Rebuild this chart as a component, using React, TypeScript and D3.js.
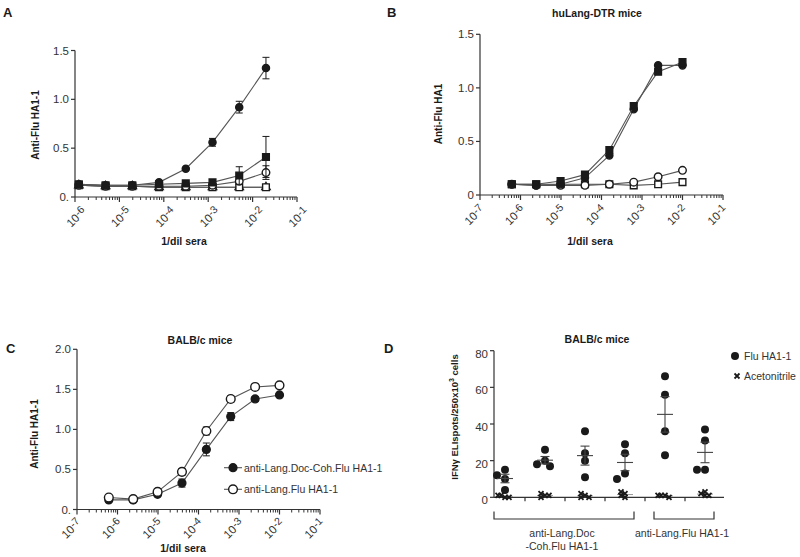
import { useRef, useEffect } from 'react';
import * as d3 from 'd3';

// 1/dil sera, left to right
const dilutionsA = [1 / 819200, 1 / 204800, 1 / 51200, 1 / 12800, 1 / 3200, 1 / 800, 1 / 200, 1 / 50];
const dilutionsBC = [1 / 1638400, 1 / 409600, 1 / 102400, 1 / 25600, 1 / 6400, 1 / 1600, 1 / 400, 1 / 100];

// Panel A
const aFilledCircle = [0.13, 0.12, 0.12, 0.15, 0.29, 0.56, 0.92, 1.32];
const aFilledCircleErr = [0.01, 0.01, 0.01, 0.01, 0.01, 0.04, 0.06, 0.11];
const aFilledSquare = [0.13, 0.12, 0.12, 0.13, 0.14, 0.15, 0.22, 0.41];
const aFilledSquareErr = [0.01, 0.01, 0.01, 0.01, 0.01, 0.02, 0.09, 0.21];
const aOpenCircle = [0.12, 0.11, 0.11, 0.11, 0.11, 0.12, 0.16, 0.25];
const aOpenCircleErr = [0, 0, 0, 0, 0, 0.01, 0.02, 0.07];
const aOpenTriangle = [0.12, 0.11, 0.11, 0.1, 0.1, 0.1, 0.1, 0.1];
const aOpenSquare = [0.12, 0.11, 0.11, 0.1, 0.1, 0.1, 0.1, 0.1];

// Panel B
const bFilledCircle = [0.1, 0.09, 0.1, 0.16, 0.37, 0.8, 1.21, 1.21];
const bFilledSquare = [0.1, 0.1, 0.13, 0.19, 0.42, 0.83, 1.15, 1.24];
const bOpenCircle = [0.1, 0.09, 0.09, 0.09, 0.1, 0.12, 0.17, 0.23];
const bOpenSquare = [0.1, 0.1, 0.1, 0.1, 0.1, 0.09, 0.1, 0.12];

// Panel C
const cDocCoh = [0.12, 0.12, 0.19, 0.33, 0.75, 1.16, 1.38, 1.43];
const cDocCohErr = [0.01, 0.01, 0.02, 0.05, 0.08, 0.05, 0.03, 0.01];
const cFlu = [0.15, 0.13, 0.22, 0.47, 0.98, 1.38, 1.53, 1.55];
const cFluErr = [0.01, 0.01, 0.02, 0.04, 0.05, 0.04, 0.02, 0.02];
const cLegend = ['anti-Lang.Doc-Coh.Flu HA1-1', 'anti-Lang.Flu HA1-1'];

// Panel D
const dGroups = ['g1', 'g2', 'g3', 'g4', 'g5', 'g6'];
const dFlu = [
    [15, 12, 10, 4],
    [26, 20, 18, 17],
    [36, 24, 20, 11],
    [29, 24, 13, 10],
    [66, 56, 36, 23],
    [37, 31, 15, 15],
];
const dAcetonitrile = [
    [0, 1, 0, 1],
    [1, 2, 0, 1],
    [1, 2, 0, 0],
    [2, 3, 1, 0],
    [1, 1, 0, 1],
    [1, 2, 3, 1],
];
const dYTicks = [0, 20, 40, 60, 80];
const dBrackets = [
    { lines: ['anti-Lang.Doc', '-Coh.Flu HA1-1'], from: 0, to: 3 },
    { lines: ['anti-Lang.Flu HA1-1'], from: 4, to: 5 },
];
const dLegend = ['Flu HA1-1', 'Acetonitrile'];

const font = '"Liberation Sans", Arial, sans-serif';
const ink = '#1a1a1a';
const axisColor = '#333';
const lineColor = '#555';

type Series = {
    values: number[];
    errors?: number[];
    shape: d3.SymbolType;
    filled: boolean;
    size: number;
};

function App() {
    const svgRef = useRef<SVGSVGElement | null>(null);

    useEffect(() => {
        const svg = d3.select(svgRef.current);
        svg.selectAll('*').remove();

        // Log x axis with minor ticks and 10^n labels
        const logAxis = (g: any, x: any, y0: number, minE: number, maxE: number, ldx: number, ldy: number) => {
            const [r0, r1] = x.range();
            g.append('line').attr('x1', r0).attr('x2', r1).attr('y1', y0).attr('y2', y0)
                .attr('stroke', axisColor).attr('stroke-width', 1.2);
            const minors = d3.range(minE, maxE).flatMap((e) => d3.range(2, 10).map((m) => m * Math.pow(10, e)));
            g.append('g').selectAll('line').data(minors).join('line')
                .attr('x1', (d: number) => x(d)).attr('x2', (d: number) => x(d))
                .attr('y1', y0).attr('y2', y0 + 3).attr('stroke', axisColor).attr('stroke-width', 1);
            const exps = d3.range(minE, maxE + 1);
            g.append('g').selectAll('line').data(exps).join('line')
                .attr('x1', (e: number) => x(Math.pow(10, e))).attr('x2', (e: number) => x(Math.pow(10, e)))
                .attr('y1', y0).attr('y2', y0 + 5).attr('stroke', axisColor).attr('stroke-width', 1.2);
            const labels = g.append('g').selectAll('text').data(exps).join('text')
                .attr('transform', (e: number) => `translate(${x(Math.pow(10, e)) + ldx},${y0 + ldy}) rotate(-45)`)
                .attr('text-anchor', 'end').attr('font-size', 11.5).attr('fill', '#333');
            labels.append('tspan').text('10');
            labels.append('tspan').attr('dy', -2.5).attr('font-size', 10.5).text((e: number) => `-${Math.abs(e)}`);
        };

        const yAxis = (g: any, y: any, x0: number, ticks: number[], fmt: (d: number) => string, labelDy = 0) => {
            const [r0, r1] = y.range();
            g.append('line').attr('x1', x0).attr('x2', x0).attr('y1', r0).attr('y2', r1)
                .attr('stroke', axisColor).attr('stroke-width', 1.2);
            g.append('g').selectAll('line').data(ticks).join('line')
                .attr('x1', x0 - 4).attr('x2', x0).attr('y1', (d: number) => y(d)).attr('y2', (d: number) => y(d))
                .attr('stroke', axisColor).attr('stroke-width', 1.2);
            g.append('g').selectAll('text').data(ticks).join('text')
                .attr('x', x0 - 6).attr('y', (d: number) => y(d) + 4 + labelDy)
                .attr('text-anchor', 'end').attr('font-size', 11.5).attr('fill', '#333')
                .text(fmt);
        };

        const drawSeries = (g: any, x: any, y: any, xs: number[], s: Series) => {
            const line = d3.line<number>().x((d, i) => x(xs[i])).y((d) => y(d));
            g.append('path').attr('d', line(s.values)).attr('fill', 'none')
                .attr('stroke', lineColor).attr('stroke-width', 1.1);
            if (s.errors) {
                const errs = s.errors;
                const eb = g.append('g').attr('stroke', ink).attr('stroke-width', 1);
                s.values.forEach((v, i) => {
                    if (!errs[i]) return;
                    const cx = x(xs[i]);
                    const top = y(v + errs[i]);
                    const bot = y(v - errs[i]);
                    eb.append('line').attr('x1', cx).attr('x2', cx).attr('y1', top).attr('y2', bot);
                    eb.append('line').attr('x1', cx - 3.5).attr('x2', cx + 3.5).attr('y1', top).attr('y2', top);
                    eb.append('line').attr('x1', cx - 3.5).attr('x2', cx + 3.5).attr('y1', bot).attr('y2', bot);
                });
            }
            g.append('g').selectAll('path').data(s.values).join('path')
                .attr('d', d3.symbol(s.shape, s.size)())
                .attr('transform', (d: number, i: number) => `translate(${x(xs[i])},${y(d)})`)
                .attr('fill', s.filled ? ink : '#fff').attr('stroke', ink).attr('stroke-width', 1.4);
        };

        const text = (t: string, x: number, y: number, size: number, opts: any = {}) =>
            svg.append('text').attr('x', x).attr('y', y).attr('font-size', size)
                .attr('font-weight', opts.bold ? 'bold' : 'normal')
                .attr('text-anchor', opts.anchor || 'start')
                .attr('fill', opts.fill || ink)
                .attr('transform', opts.rotate ? `rotate(-90,${x},${y})` : null)
                .text(t);

        const oneDecimal = (d: number) => (d === 0 ? '0.' : d.toFixed(1));

        // ---------- Panel A ----------
        const xA = d3.scaleLog().domain([1e-6, 1e-1]).range([75, 297]);
        const yA = d3.scaleLinear().domain([0, 1.5]).range([197, 50.5]);
        const gA = svg.append('g');
        yAxis(gA, yA, 75, [0, 0.5, 1, 1.5], oneDecimal);
        logAxis(gA, xA, 197, -6, -1, 12, 15);
        const seriesA: Series[] = [
            { values: aOpenTriangle, shape: d3.symbolTriangle, filled: false, size: 30 },
            { values: aOpenSquare, shape: d3.symbolSquare, filled: false, size: 45 },
            { values: aOpenCircle, errors: aOpenCircleErr, shape: d3.symbolCircle, filled: false, size: 45 },
            { values: aFilledCircle, errors: aFilledCircleErr, shape: d3.symbolCircle, filled: true, size: 40 },
            { values: aFilledSquare, errors: aFilledSquareErr, shape: d3.symbolSquare, filled: true, size: 45 },
        ];
        seriesA.forEach((s) => drawSeries(gA, xA, yA, dilutionsA, s));
        text('A', 3, 17, 13, { bold: true });
        text('Anti-Flu HA1-1', 39, 125, 10, { bold: true, anchor: 'middle', rotate: true });
        text('1/dil sera', 184, 245, 10.5, { bold: true, anchor: 'middle' });

        // ---------- Panel B ----------
        const xB = d3.scaleLog().domain([1e-7, 1e-1]).range([480, 723]);
        const yB = d3.scaleLinear().domain([0, 1.5]).range([195, 34.3]);
        const gB = svg.append('g');
        yAxis(gB, yB, 480, [0, 0.5, 1, 1.5], (d) => (d === 0 ? '0' : d.toFixed(1)));
        logAxis(gB, xB, 195, -7, -1, 5, 15);
        const seriesB: Series[] = [
            { values: bOpenSquare, shape: d3.symbolSquare, filled: false, size: 45 },
            { values: bOpenCircle, shape: d3.symbolCircle, filled: false, size: 45 },
            { values: bFilledCircle, shape: d3.symbolCircle, filled: true, size: 40 },
            { values: bFilledSquare, shape: d3.symbolSquare, filled: true, size: 45 },
        ];
        seriesB.forEach((s) => drawSeries(gB, xB, yB, dilutionsBC, s));
        text('B', 387, 17, 13, { bold: true });
        text('huLang-DTR mice', 597, 17, 10.5, { bold: true, anchor: 'middle' });
        text('Anti-Flu HA1', 442, 114, 10, { bold: true, anchor: 'middle', rotate: true });
        text('1/dil sera', 590, 245, 10.5, { bold: true, anchor: 'middle' });

        // ---------- Panel C ----------
        const xC = d3.scaleLog().domain([1e-7, 1e-1]).range([77, 320]);
        const yC = d3.scaleLinear().domain([0, 2]).range([509.5, 349.3]);
        const gC = svg.append('g');
        yAxis(gC, yC, 77, [0, 0.5, 1, 1.5, 2], oneDecimal);
        logAxis(gC, xC, 509.5, -7, -1, 5, 14);
        const seriesC: Series[] = [
            { values: cDocCoh, errors: cDocCohErr, shape: d3.symbolCircle, filled: true, size: 48 },
            { values: cFlu, errors: cFluErr, shape: d3.symbolCircle, filled: false, size: 60 },
        ];
        seriesC.forEach((s) => drawSeries(gC, xC, yC, dilutionsBC, s));
        // legend
        seriesC.forEach((s, i) => {
            const ly = 467.7 + i * 21.6;
            gC.append('line').attr('x1', 224).attr('x2', 242).attr('y1', ly).attr('y2', ly)
                .attr('stroke', lineColor).attr('stroke-width', 1.1);
            gC.append('path').attr('d', d3.symbol(s.shape, s.size)())
                .attr('transform', `translate(233,${ly})`)
                .attr('fill', s.filled ? ink : '#fff').attr('stroke', ink).attr('stroke-width', 1.4);
            gC.append('text').attr('x', 244).attr('y', ly + 4).attr('font-size', 10.5).attr('fill', '#333')
                .text(cLegend[i]);
        });
        text('C', 6, 353, 13, { bold: true });
        text('BALB/c mice', 200, 344, 10.5, { bold: true, anchor: 'middle' });
        text('Anti-Flu HA1-1', 38, 434, 10, { bold: true, anchor: 'middle', rotate: true });
        text('1/dil sera', 183, 552, 10.5, { bold: true, anchor: 'middle' });

        // ---------- Panel D ----------
        const xD = d3.scaleBand<string>().domain(dGroups).range([485, 725]);
        const yD = d3.scaleLinear().domain([0, 80]).range([497.3, 350.7]);
        const gD = svg.append('g');
        yAxis(gD, yD, 494, dYTicks, (d) => `${d}`, 3);
        gD.append('line').attr('x1', 494).attr('x2', 724).attr('y1', yD(0)).attr('y2', yD(0))
            .attr('stroke', axisColor).attr('stroke-width', 1.2);
        gD.append('g').selectAll('line').data(dGroups.slice(1)).join('line')
            .attr('x1', (d) => xD(d)!).attr('x2', (d) => xD(d)!)
            .attr('y1', yD(0)).attr('y2', yD(0) + 4).attr('stroke', axisColor).attr('stroke-width', 1.2);

        // horizontal dodge for overlapping points
        const dodge = (vals: number[], minDist: number, cands: number[]) => {
            const placed: { dx: number; py: number }[] = [];
            return vals.map((v) => {
                const py = yD(v);
                const dx = cands.find((c) => placed.every((p) => Math.hypot(p.dx - c, p.py - py) >= minDist)) ?? 0;
                placed.push({ dx, py });
                return dx;
            });
        };

        const meanSem = (vals: number[]) => {
            const m = d3.mean(vals)!;
            const sem = d3.deviation(vals)! / Math.sqrt(vals.length);
            return { m, sem };
        };

        dGroups.forEach((grp, gi) => {
            const cx = xD(grp)! + xD.bandwidth() / 2;
            // acetonitrile
            const acn = dAcetonitrile[gi];
            const acnStats = meanSem(acn);
            gD.append('line').attr('x1', cx - 8).attr('x2', cx + 8)
                .attr('y1', yD(acnStats.m)).attr('y2', yD(acnStats.m)).attr('stroke', '#999').attr('stroke-width', 1);
            const adx = dodge(acn, 3, [0, -4, 4, -7, 7]);
            acn.forEach((v, i) => {
                const px = cx + adx[i];
                const py = yD(v);
                gD.append('path').attr('d', `M${px - 2.5},${py - 2.5}L${px + 2.5},${py + 2.5}M${px - 2.5},${py + 2.5}L${px + 2.5},${py - 2.5}`)
                    .attr('stroke', ink).attr('stroke-width', 1.8);
            });
            // flu HA1-1
            const flu = dFlu[gi];
            const fdx = dodge(flu, 6, [0, -8, 5, -4, 8]);
            gD.append('g').selectAll('circle').data(flu).join('circle')
                .attr('cx', (d, i) => cx + fdx[i]).attr('cy', (d) => yD(d)).attr('r', 4).attr('fill', ink);
            const { m, sem } = meanSem(flu);
            const eg = gD.append('g').attr('stroke', '#444').attr('stroke-width', 1.1);
            eg.append('line').attr('x1', cx - 8).attr('x2', cx + 8).attr('y1', yD(m)).attr('y2', yD(m));
            eg.append('line').attr('x1', cx).attr('x2', cx).attr('y1', yD(m + sem)).attr('y2', yD(m - sem));
            eg.append('line').attr('x1', cx - 4.5).attr('x2', cx + 4.5).attr('y1', yD(m + sem)).attr('y2', yD(m + sem));
            eg.append('line').attr('x1', cx - 4.5).attr('x2', cx + 4.5).attr('y1', yD(m - sem)).attr('y2', yD(m - sem));
        });

        // group brackets
        dBrackets.forEach((b) => {
            const x1 = xD(dGroups[b.from])! + xD.bandwidth() / 2 - 11;
            const x2 = xD(dGroups[b.to])! + xD.bandwidth() / 2 + 9;
            gD.append('path').attr('d', `M${x1},511.5V519H${x2}V511.5`)
                .attr('fill', 'none').attr('stroke', axisColor).attr('stroke-width', 1.2);
            b.lines.forEach((t, i) => {
                gD.append('text').attr('x', (x1 + x2) / 2 - 2).attr('y', 537 + i * 13)
                    .attr('text-anchor', 'middle').attr('font-size', 10.5).attr('fill', '#333').text(t);
            });
        });

        // legend
        gD.append('circle').attr('cx', 735).attr('cy', 356).attr('r', 4).attr('fill', ink);
        gD.append('text').attr('x', 744).attr('y', 360).attr('font-size', 10.5).attr('fill', '#333').text(dLegend[0]);
        gD.append('path').attr('d', 'M734.5,373.5L739.5,378.5M734.5,378.5L739.5,373.5')
            .attr('stroke', ink).attr('stroke-width', 1.8);
        gD.append('text').attr('x', 744).attr('y', 380).attr('font-size', 10.5).attr('fill', '#333').text(dLegend[1]);

        text('D', 384, 353, 13, { bold: true });
        text('BALB/c mice', 597, 343, 10.5, { bold: true, anchor: 'middle' });
        const yl = svg.append('text').attr('x', 458).attr('y', 417).attr('font-size', 9.5).attr('font-weight', 'bold')
            .attr('text-anchor', 'middle').attr('fill', ink).attr('transform', 'rotate(-90,458,417)');
        yl.append('tspan').text('IFNγ ELIspots/250x10');
        yl.append('tspan').attr('dy', -4).attr('font-size', 7).text('3');
        yl.append('tspan').attr('dy', 4).text(' cells');
    }, []);

    return (
        <div>
            <svg
                ref={svgRef}
                width={800}
                height={557}
                style={{ position: 'absolute', left: 0, top: 0, background: '#fff', fontFamily: font }}
            ></svg>
        </div>
    );
}

export default App;
